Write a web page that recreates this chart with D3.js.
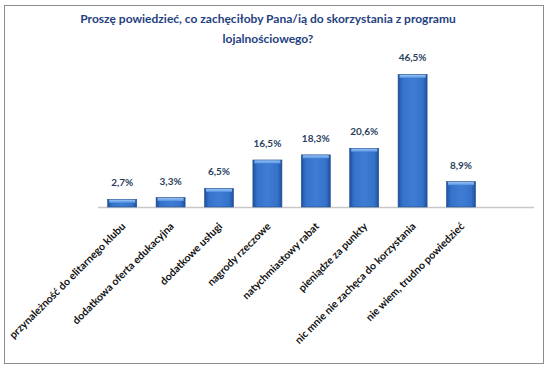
<!DOCTYPE html>
<html>
<head>
<meta charset="utf-8">
<script src="https://cdn.jsdelivr.net/npm/d3@7"></script>
<style>
  body { margin: 0; background: #fff; }
  svg { font-family: Lato, "Noto Sans", sans-serif; }
</style>
</head>
<body>
<div id="chart"></div>
<script>
// chart data
const categories = [
  "przynależność do elitarnego klubu",
  "dodatkowa oferta edukacyjna",
  "dodatkowe usługi",
  "nagrody rzeczowe",
  "natychmiastowy rabat",
  "pieniądze za punkty",
  "nic mnie nie zachęca do korzystania",
  "nie wiem, trudno powiedzieć"
];
const values = [2.7, 3.3, 6.5, 16.5, 18.3, 20.6, 46.5, 8.9];
const titleLines = [
  "Proszę powiedzieć, co zachęciłoby Pana/ią do skorzystania z programu",
  "lojalnościowego?"
];

const W = 552, H = 370;
const svg = d3.select("#chart").append("svg")
  .attr("width", W)
  .attr("height", H);

// gradient for bars
const defs = svg.append("defs");
const grad = defs.append("linearGradient")
  .attr("id", "barGrad")
  .attr("x1", "0%").attr("x2", "100%").attr("y1", "0%").attr("y2", "0%");
grad.append("stop").attr("offset", "0%").attr("stop-color", "#1d4f9c");
grad.append("stop").attr("offset", "15%").attr("stop-color", "#3572c9");
grad.append("stop").attr("offset", "50%").attr("stop-color", "#3f7cd4");
grad.append("stop").attr("offset", "85%").attr("stop-color", "#3572c9");
grad.append("stop").attr("offset", "100%").attr("stop-color", "#1d4f9c");

const topGrad = defs.append("linearGradient")
  .attr("id", "topGrad")
  .attr("x1", "0%").attr("x2", "0%").attr("y1", "0%").attr("y2", "100%");
topGrad.append("stop").attr("offset", "0%").attr("stop-color", "#9cc6f5");
topGrad.append("stop").attr("offset", "100%").attr("stop-color", "#4f8ee0");

// outer border
svg.append("rect")
  .attr("x", 4.5).attr("y", 5.5)
  .attr("width", 539).attr("height", 358)
  .attr("fill", "#fff")
  .attr("stroke", "#8c8c8c")
  .attr("stroke-width", 1);

// title
svg.append("text")
  .attr("x", 268)
  .attr("y", 23)
  .attr("text-anchor", "middle")
  .style("fill", "#1f4280")
  .style("font-weight", "bold")
  .style("font-size", "12px")
  .selectAll("tspan")
  .data(titleLines)
  .enter().append("tspan")
  .attr("x", 268)
  .attr("dy", (d, i) => i === 0 ? 0 : 20)
  .text(d => d);

// scales
const step = 48.4;
const x = d3.scaleBand()
  .domain(categories)
  .range([98, 98 + step * categories.length])
  .paddingInner(0.4)
  .paddingOuter(0.2);

const y = d3.scaleLinear()
  .domain([0, 50])
  .range([207, 64.5]);

// axis line
svg.append("line")
  .attr("x1", 98).attr("x2", 534)
  .attr("y1", 207.5).attr("y2", 207.5)
  .attr("stroke", "#c8c8c8")
  .attr("stroke-width", 1.5);

// bars
const bars = svg.selectAll(".bar")
  .data(values)
  .enter().append("g")
  .attr("class", "bar");

bars.append("rect")
  .attr("x", (d, i) => x(categories[i]))
  .attr("y", d => y(d))
  .attr("width", x.bandwidth())
  .attr("height", d => y(0) - y(d))
  .attr("fill", "url(#barGrad)")
  .attr("stroke", "#24508f")
  .attr("stroke-width", 0.6);

bars.append("rect")
  .attr("x", (d, i) => x(categories[i]) + 1.5)
  .attr("y", d => y(d) + 0.5)
  .attr("width", x.bandwidth() - 3)
  .attr("height", 3)
  .attr("fill", "url(#topGrad)");

// value labels
bars.append("text")
  .attr("x", (d, i) => x(categories[i]) + x.bandwidth() / 2)
  .attr("y", d => y(d) - 13)
  .attr("text-anchor", "middle")
  .style("fill", "#2b3f5e")
  .style("font-weight", "bold")
  .style("font-size", "10px")
  .text(d => d3.format(".1f")(d).replace(".", ",") + "%");

// category labels
svg.selectAll(".cat")
  .data(categories)
  .enter().append("text")
  .attr("class", "cat")
  .attr("text-anchor", "end")
  .attr("transform", d => `translate(${x(d) + x.bandwidth() / 2 + 4},${227}) rotate(-45)`)
  .style("fill", "#111")
  .style("font-weight", "bold")
  .style("font-size", "10.5px")
  .text(d => d);
</script>
</body>
</html>
